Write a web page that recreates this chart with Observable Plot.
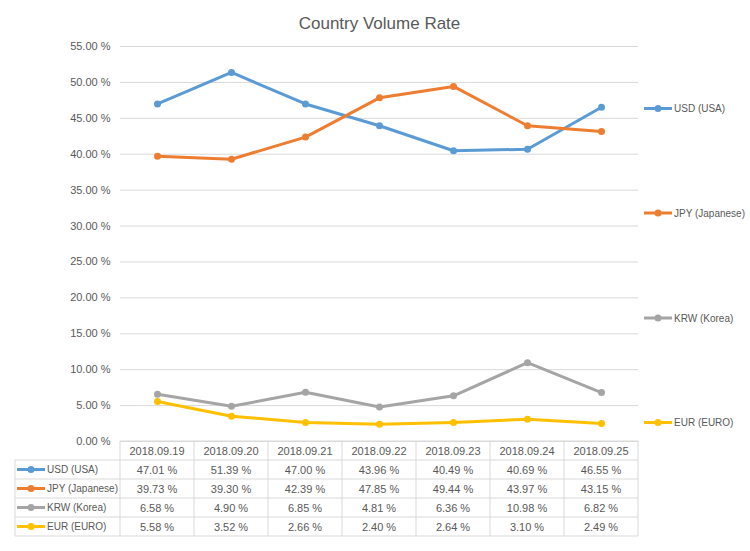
<!DOCTYPE html>
<html>
<head>
<meta charset="utf-8">
<script src="https://cdn.jsdelivr.net/npm/d3@7"></script>
<script src="https://cdn.jsdelivr.net/npm/@observablehq/plot@0.6"></script>
<style>
  html, body { margin: 0; padding: 0; background: #fff; }
  svg { display: block; }
</style>
</head>
<body>
<div id="chart"></div>
<script>
const title = "Country Volume Rate";
const dates = ["2018.09.19", "2018.09.20", "2018.09.21", "2018.09.22", "2018.09.23", "2018.09.24", "2018.09.25"];
const seriesNames = ["USD (USA)", "JPY (Japanese)", "KRW (Korea)", "EUR (EURO)"];
const seriesColors = ["#5B9BD5", "#ED7D31", "#A5A5A5", "#FFC000"];
const usd = [47.01, 51.39, 47.00, 43.96, 40.49, 40.69, 46.55];
const jpy = [39.73, 39.30, 42.39, 47.85, 49.44, 43.97, 43.15];
const krw = [6.58, 4.90, 6.85, 4.81, 6.36, 10.98, 6.82];
const eur = [5.58, 3.52, 2.66, 2.40, 2.64, 3.10, 2.49];
const yTicks = [0, 5, 10, 15, 20, 25, 30, 35, 40, 45, 50, 55];

const seriesValues = [usd, jpy, krw, eur];
const data = seriesNames.flatMap((s, si) =>
  dates.map((d, i) => ({series: s, date: d, value: seriesValues[si][i]})));

const fmt = v => v.toFixed(2) + " %";
const FONT = '"Liberation Sans", Arial, sans-serif';
const TXT = "#595959";
const GRID = "#D9D9D9";

const svg = Plot.plot({
  width: 750,
  height: 551,
  marginLeft: 120,
  marginRight: 112,
  marginTop: 46,
  marginBottom: 110,
  style: {fontFamily: FONT, fontSize: "11px", color: TXT, background: "#fff"},
  x: {type: "point", domain: dates, padding: 0.5, axis: null},
  y: {domain: [0, 55], ticks: yTicks, tickFormat: fmt, tickSize: 0, tickPadding: 10, label: null},
  color: {domain: seriesNames, range: seriesColors},
  marks: [
    Plot.gridY(yTicks, {stroke: GRID, strokeOpacity: 1, strokeWidth: 1}),
    Plot.line(data, {x: "date", y: "value", stroke: "series", z: "series", strokeWidth: 3, strokeLinejoin: "round", strokeLinecap: "round"}),
    Plot.dot(data, {x: "date", y: "value", fill: "series", r: 3.5}),
    Plot.text([title], {text: d => d, frameAnchor: "top", dy: -30, fontSize: 17, fill: TXT})
  ]
});

document.getElementById("chart").appendChild(svg);

// Data table under the chart, aligned with the Plot x scale
const xs = svg.scale("x");
const step = xs.apply(dates[1]) - xs.apply(dates[0]);
const colLeft = xs.apply(dates[0]) - step / 2;
const colRight = xs.apply(dates[dates.length - 1]) + step / 2;
const ys = svg.scale("y");
const tableTop = ys.apply(0);
const rowH = 19;
const tableLeft = 15;
const g = d3.select(svg).append("g").attr("font-family", FONT).attr("font-size", 11).attr("fill", TXT);

// horizontal lines
for (let r = 0; r <= seriesNames.length + 1; r++) {
  const y = tableTop + r * rowH;
  g.append("line")
    .attr("x1", r === 0 ? colLeft : tableLeft).attr("x2", colRight)
    .attr("y1", y).attr("y2", y)
    .attr("stroke", GRID);
}
// vertical lines
for (let c = 0; c <= dates.length; c++) {
  const x = colLeft + c * step;
  g.append("line").attr("x1", x).attr("x2", x)
    .attr("y1", tableTop).attr("y2", tableTop + rowH * (seriesNames.length + 1))
    .attr("stroke", GRID);
}
g.append("line").attr("x1", tableLeft).attr("x2", tableLeft)
  .attr("y1", tableTop + rowH).attr("y2", tableTop + rowH * (seriesNames.length + 1))
  .attr("stroke", GRID);

// header
dates.forEach(d => {
  g.append("text").attr("x", xs.apply(d)).attr("y", tableTop + rowH / 2)
    .attr("text-anchor", "middle").attr("dominant-baseline", "central").text(d);
});
// rows
seriesNames.forEach((s, si) => {
  const yc = tableTop + rowH * (si + 1) + rowH / 2;
  g.append("line").attr("x1", 17).attr("x2", 45).attr("y1", yc).attr("y2", yc)
    .attr("stroke", seriesColors[si]).attr("stroke-width", 3);
  g.append("circle").attr("cx", 31).attr("cy", yc).attr("r", 3.5).attr("fill", seriesColors[si]);
  g.append("text").attr("x", 47).attr("y", yc).attr("text-anchor", "start")
    .attr("font-size", 10)
    .attr("dominant-baseline", "central").text(s);
  dates.forEach((d, i) => {
    g.append("text").attr("x", xs.apply(d)).attr("y", yc)
      .attr("text-anchor", "middle").attr("dominant-baseline", "central")
      .text(fmt(seriesValues[si][i]));
  });
});

// Right-side legend
const legendY = [108.5, 213, 318, 422.5];
const lg = d3.select(svg).append("g").attr("font-family", FONT).attr("font-size", 10).attr("fill", TXT);
seriesNames.forEach((s, si) => {
  const y = legendY[si];
  lg.append("line").attr("x1", 644).attr("x2", 672).attr("y1", y).attr("y2", y)
    .attr("stroke", seriesColors[si]).attr("stroke-width", 3);
  lg.append("circle").attr("cx", 658).attr("cy", y).attr("r", 3.5).attr("fill", seriesColors[si]);
  lg.append("text").attr("x", 674).attr("y", y).attr("text-anchor", "start")
    .attr("dominant-baseline", "central").text(s);
});
</script>
</body>
</html>
